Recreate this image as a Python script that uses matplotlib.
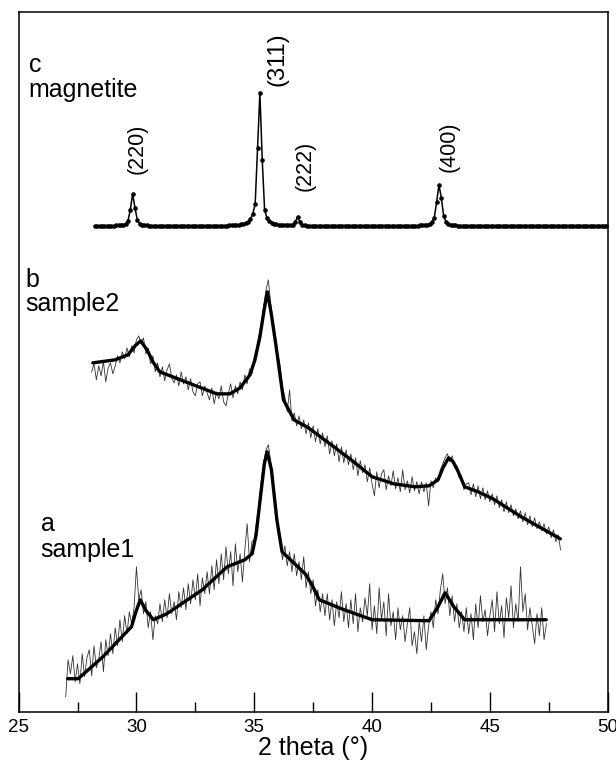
import numpy as np
import matplotlib
matplotlib.use('Agg')
import matplotlib.pyplot as plt
from matplotlib.ticker import MultipleLocator

plt.rcParams['font.family'] = ['Liberation Sans', 'DejaVu Sans']

# ---------------- data ----------------
# c: magnetite reference pattern (scan start 28.24 deg, step 0.1 deg)
mag_start, mag_step = 28.24, 0.1
mag_counts = [
    0, 0, 0, 0, 0, 0, 0, 0, 0, 1,
    1, 1, 1, 2, 5, 16, 32, 18, 6, 2,
    1, 1, 1, 0, 0, 0, 0, 0, 0, 0,
    0, 0, 0, 0, 0, 0, 0, 0, 0, 0,
    0, 0, 0, 0, 0, 0, 0, 0, 0, 0,
    0, 0, 0, 0, 0, 0, 0, 1, 1, 1,
    1, 1, 2, 2, 3, 4, 7, 12, 22, 78,
    133, 66, 16, 8, 5, 3, 2, 2, 1, 1,
    1, 1, 1, 1, 1, 4, 9, 4, 1, 1,
    0, 0, 0, 0, 0, 0, 0, 0, 0, 0,
    0, 0, 0, 0, 0, 0, 0, 0, 0, 0,
    0, 0, 0, 0, 0, 0, 0, 0, 0, 0,
    0, 0, 0, 0, 0, 0, 0, 0, 0, 0,
    0, 0, 0, 0, 0, 0, 0, 0, 1, 1,
    1, 1, 2, 4, 8, 24, 41, 28, 10, 4,
    2, 1, 1, 1, 0, 0, 0, 0, 0, 0,
    0, 0, 0, 0, 0, 0, 0, 0, 0, 0,
    0, 0, 0, 0, 0, 0, 0, 0, 0, 0,
    0, 0, 0, 0, 0, 0, 0, 0, 0, 0,
    0, 0, 0, 0, 0, 0, 0, 0, 0, 0,
    0, 0, 0, 0, 0, 0, 0, 0, 0, 0,
    0, 0, 0, 0, 0, 0, 0, 0,
]
hkl_labels = ['(220)', '(311)', '(222)', '(400)']

# b: sample2 raw scan (start 28.1 deg, step 0.1 deg) and fitted curve
s2_start, s2_step = 28.1, 0.1
s2_raw = [
    190, 198, 182, 196, 186, 200, 180, 194, 199, 188,
    196, 206, 199, 210, 203, 214, 205, 216, 209, 222,
    226, 218, 224, 208, 214, 198, 206, 190, 199, 185,
    195, 181, 192, 198, 184, 179, 187, 176, 190, 178,
    185, 172, 183, 170, 166, 178, 180, 166, 176, 169,
    162, 174, 158, 170, 163, 176, 160, 156, 168, 178,
    164, 176, 168, 180, 172, 187, 178, 193, 188, 205,
    214, 226, 238, 256, 272, 282, 258, 240, 226, 208,
    196, 174, 165, 150, 172, 141, 149, 136, 146, 133,
    142, 128, 139, 124, 136, 120, 133, 118, 129, 115,
    126, 108, 121, 106, 118, 100, 115, 99, 112, 97,
    108, 92, 104, 86, 101, 89, 97, 80, 94, 78,
    66, 90, 74, 88, 92, 72, 86, 76, 91, 73,
    84, 70, 92, 72, 81, 69, 85, 71, 80, 68,
    80, 70, 79, 56, 81, 74, 84, 80, 92, 98,
    104, 108, 100, 106, 94, 96, 84, 86, 72, 78,
    79, 67, 78, 65, 76, 63, 74, 62, 71, 60,
    68, 57, 66, 54, 62, 50, 60, 49, 57, 46,
    53, 43, 51, 40, 49, 37, 46, 35, 44, 33,
    40, 31, 38, 28, 35, 24, 32, 20, 27, 12,
]
s2_fit_2theta = [28.15, 29.09, 29.64, 29.94, 30.18, 30.45, 30.70, 30.99, 33.41,
                 33.97, 34.40, 34.82, 35.03, 35.24, 35.42, 35.56, 35.73, 35.93,
                 36.24, 36.69, 37.30, 38.21, 39.11, 40.01, 40.92, 41.82, 42.42,
                 42.80, 43.01, 43.25, 43.44, 43.62, 43.93, 44.50, 45.13, 46.33,
                 47.99]
s2_fit = [199, 202, 207, 216, 221, 212, 200, 190, 168,
          168, 174, 187, 202, 225, 252, 270, 247, 215,
          162, 142, 134, 118, 102, 85, 78, 75, 76,
          82, 94, 104, 100, 92, 75, 70, 63, 45,
          23]

# a: sample1 raw scan (start 27.0 deg, step 0.1 deg) and fitted curve
s1_start, s1_step = 27.0, 0.1
s1_raw = [
    15, 52, 38, 56, 30, 48, 28, 58, 35, 54,
    62, 36, 66, 44, 52, 70, 40, 72, 56, 78,
    58, 84, 66, 92, 70, 96, 78, 100, 88, 104,
    145, 112, 122, 98, 110, 84, 100, 72, 96, 88,
    108, 90, 112, 94, 118, 98, 110, 92, 120, 104,
    124, 102, 128, 108, 132, 112, 138, 106, 134, 118,
    140, 118, 146, 122, 152, 128, 158, 132, 165, 138,
    160, 126, 168, 140, 158, 130, 162, 188, 150, 170,
    172, 190, 208, 232, 250, 262, 267, 250, 230, 210,
    180, 172, 152, 166, 146, 160, 140, 158, 136, 150,
    132, 155, 124, 140, 118, 132, 106, 122, 100, 118,
    96, 118, 92, 112, 86, 110, 94, 120, 90, 108,
    84, 112, 88, 118, 80, 104, 90, 114, 96, 128,
    82, 106, 78, 124, 92, 110, 76, 118, 86, 100,
    72, 104, 82, 96, 70, 88, 104, 66, 80, 58,
    90, 70, 96, 62, 86, 100, 84, 112, 98, 122,
    138, 108, 124, 96, 116, 90, 108, 84, 100, 80,
    104, 78, 98, 72, 108, 84, 116, 90, 102, 76,
    96, 112, 80, 120, 88, 106, 74, 114, 94, 126,
    84, 108, 90, 145, 100, 118, 82, 104, 86, 68,
    98, 76, 104, 72, 88,
]
s1_fit_2theta = [27.08, 27.53, 28.58, 29.79, 29.98, 30.16, 30.41, 30.72, 31.29,
                 32.80, 33.85, 34.60, 34.91, 35.08, 35.20, 35.43, 35.55, 35.73,
                 35.96, 36.18, 37.16, 37.45, 37.76, 38.81, 40.01, 42.42, 42.80,
                 43.10, 43.47, 43.93, 47.39]
s1_fit = [33, 33, 55, 85, 100, 112, 101, 92, 98,
          122, 145, 152, 158, 177, 202, 248, 260, 242,
          192, 160, 138, 127, 112, 102, 92, 91, 105,
          119, 105, 92, 92]

x_ticks = [25, 30, 35, 40, 45, 50]

# ---------------- layout / style ----------------
off_c, off_b, off_a = 486, 150, 0
label_pos = [(30.03, 538), (35.97, 626), (37.16, 521), (43.27, 540)]
label_size = [15.5, 17.0, 15.5, 15.5]

mag_x = mag_start + mag_step * np.arange(len(mag_counts))
s2_x = s2_start + s2_step * np.arange(len(s2_raw))
s1_x = s1_start + s1_step * np.arange(len(s1_raw))

fig = plt.figure(figsize=(6.16, 7.66), dpi=100)
ax = fig.add_axes([0.0302, 0.0709, 0.9563, 0.9134])

# c magnetite
ax.plot(mag_x, np.array(mag_counts) + off_c, color='black', lw=1.1,
        marker='o', markersize=3.3, markeredgewidth=0)
for (lx, ly), lab, fs in zip(label_pos, hkl_labels, label_size):
    ax.text(lx, ly, lab, rotation=90, ha='center', va='bottom', fontsize=fs)

# b sample2
ax.plot(s2_x, np.array(s2_raw) + off_b, color='#333333', lw=0.6)
ax.plot(s2_fit_2theta, np.array(s2_fit) + off_b, color='black', lw=2.4,
        solid_joinstyle='round', solid_capstyle='round')

# a sample1
ax.plot(s1_x, np.array(s1_raw) + off_a, color='#333333', lw=0.6)
ax.plot(s1_fit_2theta, np.array(s1_fit) + off_a, color='black', lw=2.4,
        solid_joinstyle='round', solid_capstyle='round')

# series labels
lab_fs = 18
ax.text(25.45, 640, 'c', fontsize=lab_fs, va='baseline')
ax.text(25.40, 615, 'magnetite', fontsize=lab_fs, va='baseline')
ax.text(25.30, 425, 'b', fontsize=lab_fs, va='baseline')
ax.text(25.28, 401, 'sample2', fontsize=lab_fs, va='baseline')
ax.text(25.95, 181, 'a', fontsize=lab_fs, va='baseline')
ax.text(25.92, 155, 'sample1', fontsize=lab_fs, va='baseline')

ax.set_xlim(25, 50)
ax.set_ylim(0, 700)
ax.set_xticks(x_ticks)
ax.xaxis.set_minor_locator(MultipleLocator(2.5))
ax.set_yticks([])
ax.tick_params(axis='x', which='major', direction='in', length=14.4, width=1.0,
               labelsize=13.5, pad=5, top=False)
ax.tick_params(axis='x', which='minor', direction='in', length=7.2, width=1.0,
               top=False)
for s in ax.spines.values():
    s.set_linewidth(1.1)
ax.set_xlabel('2 theta (°)', fontsize=18, labelpad=0)

fig.savefig('out.png', dpi=100)
